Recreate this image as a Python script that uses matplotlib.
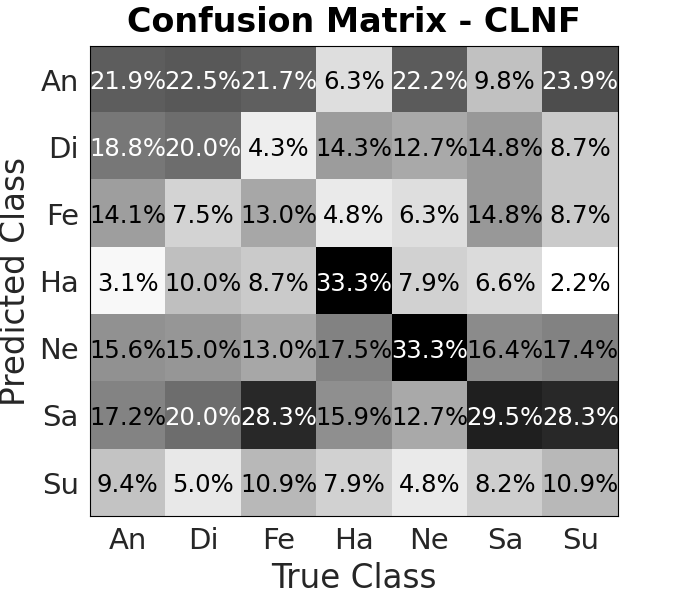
import numpy as np
import matplotlib
matplotlib.use('Agg')
import matplotlib.pyplot as plt

classes = ['An', 'Di', 'Fe', 'Ha', 'Ne', 'Sa', 'Su']
# filas = clase predicha, columnas = clase real (en %)
row_an = [21.9, 22.5, 21.7, 6.3, 22.2, 9.8, 23.9]
row_di = [18.8, 20.0, 4.3, 14.3, 12.7, 14.8, 8.7]
row_fe = [14.1, 7.5, 13.0, 4.8, 6.3, 14.8, 8.7]
row_ha = [3.1, 10.0, 8.7, 33.3, 7.9, 6.6, 2.2]
row_ne = [15.6, 15.0, 13.0, 17.5, 33.3, 16.4, 17.4]
row_sa = [17.2, 20.0, 28.3, 15.9, 12.7, 29.5, 28.3]
row_su = [9.4, 5.0, 10.9, 7.9, 4.8, 8.2, 10.9]

cm = np.array([row_an, row_di, row_fe, row_ha, row_ne, row_sa, row_su])

fig = plt.figure(figsize=(6.84, 5.98), dpi=100)
ax = fig.add_axes([0.1316, 0.137, 0.7719, 0.786])
ax.imshow(cm, cmap='gray_r', vmin=cm.min(), vmax=cm.max(), aspect='auto')

thresh = (cm.min() + cm.max()) / 2
for i in range(cm.shape[0]):
    for j in range(cm.shape[1]):
        ax.text(j, i, '%.1f%%' % cm[i, j], ha='center', va='center_baseline',
                fontsize=17.5, color='white' if cm[i, j] > thresh else 'black')

ax.set_xticks(range(len(classes)))
ax.set_yticks(range(len(classes)))
ax.set_xticklabels(classes, fontsize=21, color='#262626')
ax.set_yticklabels(classes, fontsize=21, color='#262626')
ax.tick_params(length=0, pad=8)
ax.set_xlabel('True Class', fontsize=23.5, color='#262626', labelpad=5)
ax.set_ylabel('Predicted Class', fontsize=23.5, color='#262626', labelpad=5)
ax.set_title('Confusion Matrix - CLNF', fontsize=24, fontweight='bold', pad=10)

plt.savefig('out.png', dpi=100)
